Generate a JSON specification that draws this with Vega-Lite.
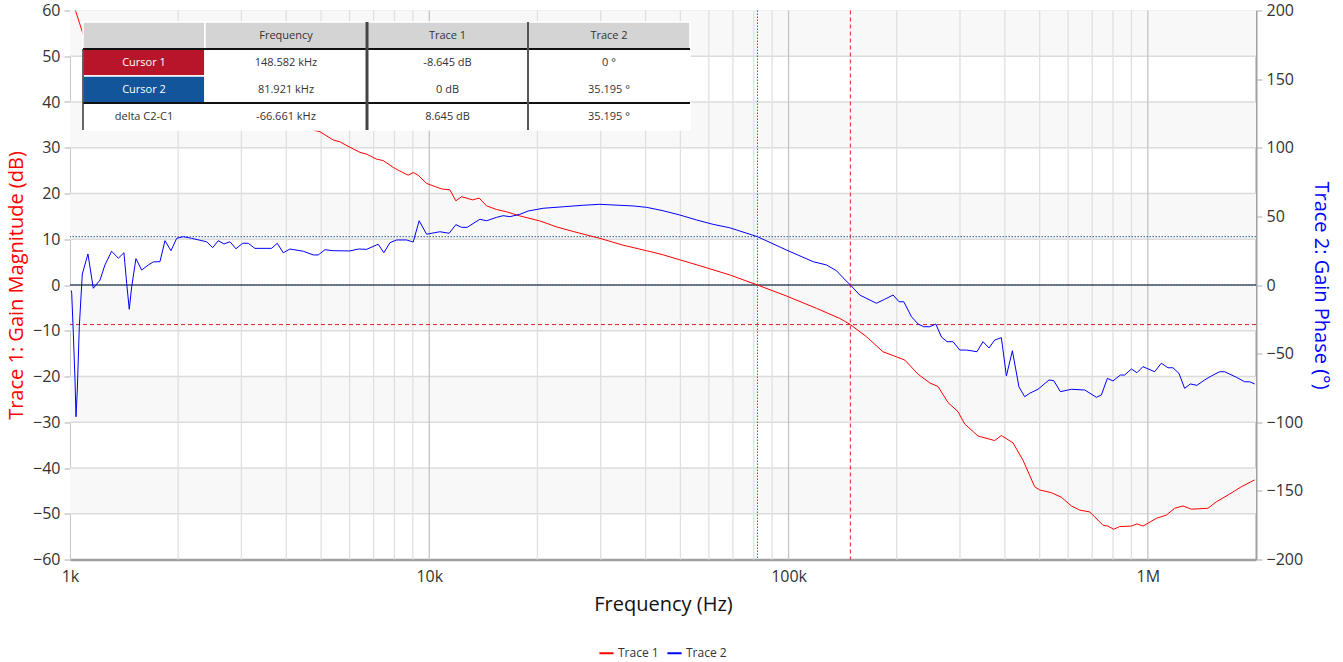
{
  "$schema": "https://vega.github.io/schema/vega-lite/v6.json",
  "width": 1186,
  "height": 549,
  "autosize": {"type": "none"},
  "padding": {"left": 70, "top": 10.5, "right": 87, "bottom": 102.5},
  "background": "white",
  "config": {
    "font": "Open Sans",
    "view": {"stroke": "#d6d6d6", "strokeWidth": 1},
    "axis": {"labelFont": "Open Sans", "labelFontSize": 16, "labelColor": "#333333", "titleFont": "Open Sans", "titleFontSize": 20, "titleFontWeight": "normal", "grid": false, "domainColor": "#a8a8a8", "tickColor": "#a8a8a8"},
    "legend": {"labelFont": "Open Sans", "labelFontSize": 12, "labelColor": "#333333"}
  },
  "datasets": {
    "trace1": [
      {"f": 1000, "v": 64}, {"f": 1038.5, "v": 59.7}, {"f": 1093, "v": 54.3}, {"f": 1212, "v": 50}, {"f": 1469, "v": 46}, {"f": 1898, "v": 42}, {"f": 2615, "v": 38.5}, {"f": 3601, "v": 36}, {"f": 4365, "v": 34.6},
      {"f": 4963, "v": 33.5}, {"f": 5404, "v": 31.7}, {"f": 5640, "v": 31.3}, {"f": 6013, "v": 30.1}, {"f": 6411, "v": 29.0}, {"f": 6691, "v": 28.6}, {"f": 7135, "v": 27.5}, {"f": 7443, "v": 27.2}, {"f": 7935, "v": 25.7}, {"f": 8193, "v": 25.1}, {"f": 8736, "v": 24.0}, {"f": 9019, "v": 24.6}, {"f": 9312, "v": 24.0}, {"f": 9829, "v": 22.2}, {"f": 10818, "v": 21.0}, {"f": 11410, "v": 20.8}, {"f": 11858, "v": 18.4}, {"f": 12298, "v": 19.3}, {"f": 13196, "v": 18.6}, {"f": 13766, "v": 19.0}, {"f": 14434, "v": 17.3}, {"f": 15391, "v": 16.5}, {"f": 16410, "v": 16.0}, {"f": 17868, "v": 15.1}, {"f": 20316, "v": 14.0}, {"f": 22612, "v": 12.7}, {"f": 25141, "v": 11.7}, {"f": 29838, "v": 10.2}, {"f": 34633, "v": 8.7}, {"f": 40233, "v": 7.5}, {"f": 44755, "v": 6.6}, {"f": 49815, "v": 5.5}, {"f": 57824, "v": 4.0}, {"f": 68601, "v": 2.2}, {"f": 81921, "v": 0}, {"f": 98666, "v": -2.4}, {"f": 119580, "v": -5.1}, {"f": 138830, "v": -7.3}, {"f": 148582, "v": -8.645}, {"f": 164720, "v": -11.3}, {"f": 183220, "v": -14.6}, {"f": 199590, "v": -15.7}, {"f": 210600, "v": -16.4}, {"f": 229340, "v": -19.5}, {"f": 247190, "v": -21.4}, {"f": 260680, "v": -22.2}, {"f": 277900, "v": -25.7}, {"f": 296310, "v": -27.7}, {"f": 309310, "v": -30.4}, {"f": 336690, "v": -33.0}, {"f": 374710, "v": -34.0}, {"f": 391150, "v": -32.9}, {"f": 421330, "v": -34.5}, {"f": 449290, "v": -38.3}, {"f": 484190, "v": -44.1}, {"f": 499940, "v": -44.8}, {"f": 539060, "v": -45.4}, {"f": 574730, "v": -46.4}, {"f": 612790, "v": -48.3}, {"f": 646240, "v": -49.2}, {"f": 688990, "v": -49.6}, {"f": 750100, "v": -52.5}, {"f": 774520, "v": -52.7}, {"f": 803340, "v": -53.4}, {"f": 834820, "v": -52.8}, {"f": 899810, "v": -52.7}, {"f": 932660, "v": -52.2}, {"f": 969140, "v": -52.7}, {"f": 1056000, "v": -51.0}, {"f": 1125800, "v": -50.3}, {"f": 1187200, "v": -48.8}, {"f": 1252100, "v": -48.3}, {"f": 1321400, "v": -49.0}, {"f": 1469700, "v": -48.8}, {"f": 1550900, "v": -47.4}, {"f": 1689000, "v": -45.7}, {"f": 1820500, "v": -44.1}, {"f": 1982600, "v": -42.6}
    ],
    "trace2": [
      {"f": 1008, "v": -4}, {"f": 1011, "v": -6}, {"f": 1021.4, "v": -35}, {"f": 1027.9, "v": -54.6}, {"f": 1032.6, "v": -69.2}, {"f": 1039.2, "v": -96}, {"f": 1047.9, "v": -76.5}, {"f": 1061.4, "v": -30.4}, {"f": 1082, "v": 8}, {"f": 1122, "v": 22.6}, {"f": 1161, "v": -2.4}, {"f": 1212, "v": 3.6}, {"f": 1251, "v": 14.6}, {"f": 1306, "v": 24.6}, {"f": 1363, "v": 19.5}, {"f": 1413, "v": 23.5}, {"f": 1438, "v": 1.2}, {"f": 1462, "v": -17.7}, {"f": 1485, "v": -1.2}, {"f": 1526, "v": 19.2}, {"f": 1583, "v": 10.9}, {"f": 1652, "v": 14.6}, {"f": 1705, "v": 16.8}, {"f": 1780, "v": 17.0}, {"f": 1838, "v": 32.3}, {"f": 1910, "v": 25.0}, {"f": 1981, "v": 34.0}, {"f": 2067, "v": 35.2}, {"f": 2181, "v": 34.0}, {"f": 2401, "v": 31.5}, {"f": 2495, "v": 27.2}, {"f": 2586, "v": 32.3}, {"f": 2682, "v": 29.9}, {"f": 2788, "v": 31.5}, {"f": 2897, "v": 26.4}, {"f": 3024, "v": 30.4}, {"f": 3134, "v": 30.4}, {"f": 3271, "v": 26.7}, {"f": 3641, "v": 26.7}, {"f": 3774, "v": 30.4}, {"f": 3922, "v": 23.5}, {"f": 4094, "v": 26.2}, {"f": 4460, "v": 24.6}, {"f": 4754, "v": 21.9}, {"f": 4909, "v": 21.9}, {"f": 5125, "v": 25.7}, {"f": 5404, "v": 25.0}, {"f": 6013, "v": 24.8}, {"f": 6342, "v": 26.2}, {"f": 6691, "v": 26.0}, {"f": 7208, "v": 29.7}, {"f": 7476, "v": 23.5}, {"f": 7769, "v": 30.8}, {"f": 8110, "v": 32.8}, {"f": 8647, "v": 32.8}, {"f": 9019, "v": 31.3}, {"f": 9372, "v": 46.8}, {"f": 9829, "v": 37.0}, {"f": 10702, "v": 38.8}, {"f": 11359, "v": 37.7}, {"f": 11858, "v": 44.0}, {"f": 12298, "v": 42.0}, {"f": 12748, "v": 42.0}, {"f": 13828, "v": 47.9}, {"f": 14434, "v": 46.8}, {"f": 15391, "v": 49.3}, {"f": 16056, "v": 50.5}, {"f": 16761, "v": 49.8}, {"f": 17868, "v": 51.5}, {"f": 18843, "v": 53.9}, {"f": 20750, "v": 55.9}, {"f": 23590, "v": 57.0}, {"f": 26812, "v": 58.1}, {"f": 29838, "v": 58.8}, {"f": 32489, "v": 58.3}, {"f": 36932, "v": 57.6}, {"f": 40233, "v": 56.6}, {"f": 44755, "v": 54.1}, {"f": 49815, "v": 51.0}, {"f": 55430, "v": 47.4}, {"f": 61657, "v": 44.2}, {"f": 68601, "v": 41.7}, {"f": 81921, "v": 35.195}, {"f": 98666, "v": 25.5}, {"f": 117010, "v": 17.0}, {"f": 127500, "v": 14.6}, {"f": 135930, "v": 10.4}, {"f": 141800, "v": 5.3}, {"f": 148582, "v": 0}, {"f": 157800, "v": -7.3}, {"f": 175600, "v": -13.3}, {"f": 185200, "v": -10.4}, {"f": 195390, "v": -7.3}, {"f": 203040, "v": -12.2}, {"f": 209250, "v": -12.2}, {"f": 219840, "v": -23.1}, {"f": 229340, "v": -28.4}, {"f": 237870, "v": -30.4}, {"f": 247190, "v": -30.4}, {"f": 256870, "v": -28.4}, {"f": 266430, "v": -37.9}, {"f": 276150, "v": -41.3}, {"f": 286970, "v": -41.3}, {"f": 299560, "v": -47.4}, {"f": 312700, "v": -47.4}, {"f": 334540, "v": -48.6}, {"f": 347650, "v": -41.3}, {"f": 361280, "v": -45.9}, {"f": 374710, "v": -40.1}, {"f": 391150, "v": -38.4}, {"f": 403890, "v": -66.3}, {"f": 419720, "v": -47.9}, {"f": 437860, "v": -74.3}, {"f": 454130, "v": -81.4}, {"f": 468920, "v": -78.9}, {"f": 494530, "v": -76.0}, {"f": 530840, "v": -69.2}, {"f": 547060, "v": -69.7}, {"f": 571070, "v": -77.7}, {"f": 612790, "v": -76.0}, {"f": 667300, "v": -76.5}, {"f": 719060, "v": -81.8}, {"f": 742460, "v": -80.1}, {"f": 771560, "v": -68.0}, {"f": 799740, "v": -69.9}, {"f": 838560, "v": -65.6}, {"f": 862000, "v": -65.6}, {"f": 899810, "v": -61.2}, {"f": 932660, "v": -63.9}, {"f": 969140, "v": -59.5}, {"f": 1044500, "v": -63.2}, {"f": 1090300, "v": -57.0}, {"f": 1137400, "v": -60.3}, {"f": 1174400, "v": -60.3}, {"f": 1220400, "v": -64.3}, {"f": 1265800, "v": -75.3}, {"f": 1312900, "v": -72.1}, {"f": 1369600, "v": -73.1}, {"f": 1438800, "v": -69.2}, {"f": 1502000, "v": -66.3}, {"f": 1584000, "v": -63.2}, {"f": 1635600, "v": -63.2}, {"f": 1763100, "v": -67.2}, {"f": 1859400, "v": -70.5}, {"f": 1920000, "v": -70.5}, {"f": 1982600, "v": -72.1}
    ],
    "bands": [
      {"lo": 50, "hi": 60}, {"lo": 30, "hi": 40}, {"lo": 10, "hi": 20}, {"lo": -10, "hi": 0}, {"lo": -30, "hi": -20}, {"lo": -50, "hi": -40}
    ],
    "hgrid": [
      {"db": -50}, {"db": -40}, {"db": -30}, {"db": -20}, {"db": -10}, {"db": 10}, {"db": 20}, {"db": 30}, {"db": 40}, {"db": 50}
    ],
    "vgrid": [
      {"f": 2000, "d": 0}, {"f": 3000, "d": 0}, {"f": 4000, "d": 0}, {"f": 5000, "d": 0}, {"f": 6000, "d": 0}, {"f": 7000, "d": 0}, {"f": 8000, "d": 0}, {"f": 9000, "d": 0},
      {"f": 10000, "d": 1}, {"f": 20000, "d": 0}, {"f": 30000, "d": 0}, {"f": 40000, "d": 0}, {"f": 50000, "d": 0}, {"f": 60000, "d": 0}, {"f": 70000, "d": 0}, {"f": 80000, "d": 0}, {"f": 90000, "d": 0},
      {"f": 100000, "d": 1}, {"f": 200000, "d": 0}, {"f": 300000, "d": 0}, {"f": 400000, "d": 0}, {"f": 500000, "d": 0}, {"f": 600000, "d": 0}, {"f": 700000, "d": 0}, {"f": 800000, "d": 0}, {"f": 900000, "d": 0},
      {"f": 1000000, "d": 1}
    ],
    "cells": [
      {"row": 0, "col": 0, "label": ""}, {"row": 0, "col": 1, "label": "Frequency"}, {"row": 0, "col": 2, "label": "Trace 1"}, {"row": 0, "col": 3, "label": "Trace 2"},
      {"row": 1, "col": 0, "label": "Cursor 1"}, {"row": 1, "col": 1, "label": "148.582 kHz"}, {"row": 1, "col": 2, "label": "-8.645 dB"}, {"row": 1, "col": 3, "label": "0 °"},
      {"row": 2, "col": 0, "label": "Cursor 2"}, {"row": 2, "col": 1, "label": "81.921 kHz"}, {"row": 2, "col": 2, "label": "0 dB"}, {"row": 2, "col": 3, "label": "35.195 °"},
      {"row": 3, "col": 0, "label": "delta C2-C1"}, {"row": 3, "col": 1, "label": "-66.661 kHz"}, {"row": 3, "col": 2, "label": "8.645 dB"}, {"row": 3, "col": 3, "label": "35.195 °"}
    ]
  },
  "layer": [
    {
      "data": {"name": "bands"},
      "mark": {"type": "rect", "fill": "#f8f8f8"},
      "encoding": {
        "x": {"datum": 1000, "type": "quantitative", "axis": null, "scale": {"type": "log", "domain": [1000, 2000000], "nice": false}},
        "x2": {"datum": 2000000},
        "y": {"field": "lo", "type": "quantitative", "axis": null, "scale": {"domain": [-60, 60], "nice": false, "zero": false}},
        "y2": {"field": "hi"}
      }
    },
    {
      "data": {"name": "hgrid"},
      "mark": {"type": "rule", "color": "#dcdcdc", "strokeWidth": 1.3},
      "encoding": {"y": {"field": "db", "type": "quantitative", "axis": null, "scale": {"domain": [-60, 60], "nice": false, "zero": false}}}
    },
    {
      "data": {"name": "vgrid"},
      "mark": {"type": "rule", "strokeWidth": 1.3},
      "encoding": {
        "x": {"field": "f", "type": "quantitative", "axis": null, "scale": {"type": "log", "domain": [1000, 2000000], "nice": false}},
        "color": {"condition": {"test": "datum.d == 1", "value": "#c4c4c4"}, "value": "#e0e0e0"}
      }
    },
    {
      "data": {"values": [{}]},
      "mark": {"type": "rule", "color": "#000000", "strokeWidth": 1},
      "encoding": {"y": {"datum": 0, "type": "quantitative", "axis": null, "scale": {"domain": [-60, 60], "nice": false, "zero": false}}}
    },
    {
      "data": {"values": [{}]},
      "mark": {"type": "rule", "color": "#3a5fa8", "strokeWidth": 1, "strokeDash": [1.5, 1.5]},
      "encoding": {"y": {"datum": 0, "type": "quantitative", "axis": null, "scale": {"domain": [-200, 200], "nice": false, "zero": false}}}
    },
    {
      "data": {"values": [{}]},
      "mark": {"type": "rule", "color": "#e3202c", "strokeWidth": 1, "strokeDash": [4, 3]},
      "encoding": {"y": {"datum": -8.645, "type": "quantitative", "axis": null, "scale": {"domain": [-60, 60], "nice": false, "zero": false}}}
    },
    {
      "data": {"values": [{}]},
      "mark": {"type": "rule", "color": "#e3202c", "strokeWidth": 1, "strokeDash": [4, 3]},
      "encoding": {"x": {"datum": 148582, "type": "quantitative", "axis": null, "scale": {"type": "log", "domain": [1000, 2000000], "nice": false}}}
    },
    {
      "data": {"values": [{}]},
      "mark": {"type": "rule", "color": "#1f6fc0", "strokeWidth": 1, "strokeDash": [1.5, 1.5]},
      "encoding": {"x": {"datum": 81921, "type": "quantitative", "axis": null, "scale": {"type": "log", "domain": [1000, 2000000], "nice": false}}}
    },
    {
      "data": {"values": [{}]},
      "mark": {"type": "rule", "color": "#2a5a8a", "strokeWidth": 1, "strokeDash": [1.5, 1.5]},
      "encoding": {"y": {"datum": 35.195, "type": "quantitative", "axis": null, "scale": {"domain": [-200, 200], "nice": false, "zero": false}}}
    },
    {
      "data": {"name": "trace1"},
      "mark": {"type": "line", "strokeWidth": 1, "clip": true},
      "encoding": {
        "x": {
          "field": "f", "type": "quantitative",
          "scale": {"type": "log", "domain": [1000, 2000000], "nice": false},
          "axis": {
            "orient": "bottom",
            "values": [1000, 10000, 100000, 1000000],
            "labelExpr": "datum.value == 1000 ? '1k' : datum.value == 10000 ? '10k' : datum.value == 100000 ? '100k' : '1M'",
            "ticks": false, "domainColor": "#a0a0a0", "domainWidth": 2.5, "labelPadding": 9,
            "labelFlush": false, "labelOverlap": false,
            "title": "Frequency (Hz)", "titleColor": "#111111", "titlePadding": 10
          }
        },
        "y": {
          "field": "v", "type": "quantitative",
          "scale": {"domain": [-60, 60], "nice": false, "zero": false},
          "axis": {
            "orient": "left",
            "values": [-60, -50, -40, -30, -20, -10, 0, 10, 20, 30, 40, 50, 60],
            "title": "Trace 1: Gain Magnitude (dB)", "titleColor": "#ff0000", "titlePadding": 6,
            "tickSize": 6, "domainColor": "#c8c8c8", "tickColor": "#b0b0b0", "labelPadding": 4
          }
        },
        "color": {
          "datum": "Trace 1",
          "scale": {"domain": ["Trace 1", "Trace 2"], "range": ["#ff0000", "#0000ff"]},
          "legend": {"title": null, "orient": "none", "direction": "horizontal", "legendX": 528, "legendY": 634, "symbolType": "stroke", "symbolStrokeWidth": 2, "symbolSize": 200, "columnPadding": 4, "labelOffset": 3}
        }
      }
    },
    {
      "data": {"name": "trace2"},
      "mark": {"type": "line", "strokeWidth": 1, "clip": true},
      "encoding": {
        "x": {"field": "f", "type": "quantitative", "axis": null, "scale": {"type": "log", "domain": [1000, 2000000], "nice": false}},
        "y": {
          "field": "v", "type": "quantitative",
          "scale": {"domain": [-200, 200], "nice": false, "zero": false},
          "axis": {
            "orient": "right",
            "values": [-200, -150, -100, -50, 0, 50, 100, 150, 200],
            "title": "Trace 2: Gain Phase (°)", "titleColor": "#0000ff", "titlePadding": 8,
            "tickSize": 6, "domainColor": "#a0a0a0", "domainWidth": 2, "tickColor": "#b0b0b0", "labelPadding": 4
          }
        },
        "color": {"datum": "Trace 2"}
      }
    },
    {
      "data": {"name": "cells"},
      "transform": [{"filter": "datum.col == 0"}],
      "mark": {"type": "rect", "width": 122, "height": 27, "stroke": "#ffffff", "strokeWidth": 1.5},
      "encoding": {
        "x": {"field": "col", "type": "quantitative", "axis": null,
              "scale": {"domain": [-0.5, 0.5, 1.5, 2.5, 3.5], "range": [13, 135, 297, 458, 620], "nice": false, "zero": false}},
        "y": {"field": "row", "type": "quantitative", "axis": null,
              "scale": {"domain": [-0.5, 3.5], "range": [11.5, 119.5], "nice": false, "zero": false}},
        "fill": {"condition": [
          {"test": "datum.row == 0", "value": "#d4d4d4"},
          {"test": "datum.row == 1", "value": "#b8152b"},
          {"test": "datum.row == 2", "value": "#12559b"}
        ], "value": "#ffffff"}
      }
    },
    {
      "data": {"name": "cells"},
      "transform": [{"filter": "datum.col > 0"}],
      "mark": {"type": "rect", "width": 162, "height": 27, "stroke": "#ffffff", "strokeWidth": 1.5},
      "encoding": {
        "x": {"field": "col", "type": "quantitative", "axis": null,
              "scale": {"domain": [-0.5, 0.5, 1.5, 2.5, 3.5], "range": [13, 135, 297, 458, 620], "nice": false, "zero": false}},
        "y": {"field": "row", "type": "quantitative", "axis": null,
              "scale": {"domain": [-0.5, 3.5], "range": [11.5, 119.5], "nice": false, "zero": false}},
        "fill": {"condition": {"test": "datum.row == 0", "value": "#d4d4d4"}, "value": "#ffffff"}
      }
    },
    {
      "data": {"name": "cells"},
      "mark": {"type": "text", "font": "Open Sans", "fontSize": 11, "align": "center", "baseline": "middle"},
      "encoding": {
        "x": {"field": "col", "type": "quantitative", "axis": null,
              "scale": {"domain": [-0.5, 0.5, 1.5, 2.5, 3.5], "range": [13, 135, 297, 458, 620], "nice": false, "zero": false}},
        "y": {"field": "row", "type": "quantitative", "axis": null,
              "scale": {"domain": [-0.5, 3.5], "range": [11.5, 119.5], "nice": false, "zero": false}},
        "text": {"field": "label"},
        "color": {"condition": {"test": "datum.col == 0 && (datum.row == 1 || datum.row == 2)", "value": "#ffffff"}, "value": "#333333"}
      }
    },
    {
      "data": {"values": [{}]},
      "mark": {"type": "rule", "color": "#111111", "strokeWidth": 2},
      "encoding": {
        "x": {"datum": -0.5, "type": "quantitative", "axis": null,
              "scale": {"domain": [-0.5, 0.5, 1.5, 2.5, 3.5], "range": [13, 135, 297, 458, 620], "nice": false, "zero": false}},
        "x2": {"datum": 3.5},
        "y": {"datum": 0.5, "type": "quantitative", "axis": null,
              "scale": {"domain": [-0.5, 3.5], "range": [11.5, 119.5], "nice": false, "zero": false}}
      }
    },
    {
      "data": {"values": [{}]},
      "mark": {"type": "rule", "color": "#111111", "strokeWidth": 2},
      "encoding": {
        "x": {"datum": -0.5, "type": "quantitative", "axis": null,
              "scale": {"domain": [-0.5, 0.5, 1.5, 2.5, 3.5], "range": [13, 135, 297, 458, 620], "nice": false, "zero": false}},
        "x2": {"datum": 3.5},
        "y": {"datum": 2.5, "type": "quantitative", "axis": null,
              "scale": {"domain": [-0.5, 3.5], "range": [11.5, 119.5], "nice": false, "zero": false}}
      }
    },
    {
      "data": {"values": [{}]},
      "mark": {"type": "rule", "color": "#444444", "strokeWidth": 3},
      "encoding": {
        "x": {"datum": 1.5, "type": "quantitative", "axis": null,
              "scale": {"domain": [-0.5, 0.5, 1.5, 2.5, 3.5], "range": [13, 135, 297, 458, 620], "nice": false, "zero": false}},
        "y": {"datum": -0.5, "type": "quantitative", "axis": null,
              "scale": {"domain": [-0.5, 3.5], "range": [11.5, 119.5], "nice": false, "zero": false}},
        "y2": {"datum": 3.5}
      }
    },
    {
      "data": {"values": [{}]},
      "mark": {"type": "rule", "color": "#555555", "strokeWidth": 2},
      "encoding": {
        "x": {"datum": 2.5, "type": "quantitative", "axis": null,
              "scale": {"domain": [-0.5, 0.5, 1.5, 2.5, 3.5], "range": [13, 135, 297, 458, 620], "nice": false, "zero": false}},
        "y": {"datum": -0.5, "type": "quantitative", "axis": null,
              "scale": {"domain": [-0.5, 3.5], "range": [11.5, 119.5], "nice": false, "zero": false}},
        "y2": {"datum": 3.5}
      }
    },
    {
      "data": {"values": [{}]},
      "mark": {"type": "rule", "color": "#333333", "strokeWidth": 1.5},
      "encoding": {
        "x": {"datum": -0.5, "type": "quantitative", "axis": null,
              "scale": {"domain": [-0.5, 0.5, 1.5, 2.5, 3.5], "range": [13, 135, 297, 458, 620], "nice": false, "zero": false}},
        "y": {"datum": 0.5, "type": "quantitative", "axis": null,
              "scale": {"domain": [-0.5, 3.5], "range": [11.5, 119.5], "nice": false, "zero": false}},
        "y2": {"datum": 3.5}
      }
    }
  ],
  "resolve": {"scale": {"x": "independent", "y": "independent"}}
}
